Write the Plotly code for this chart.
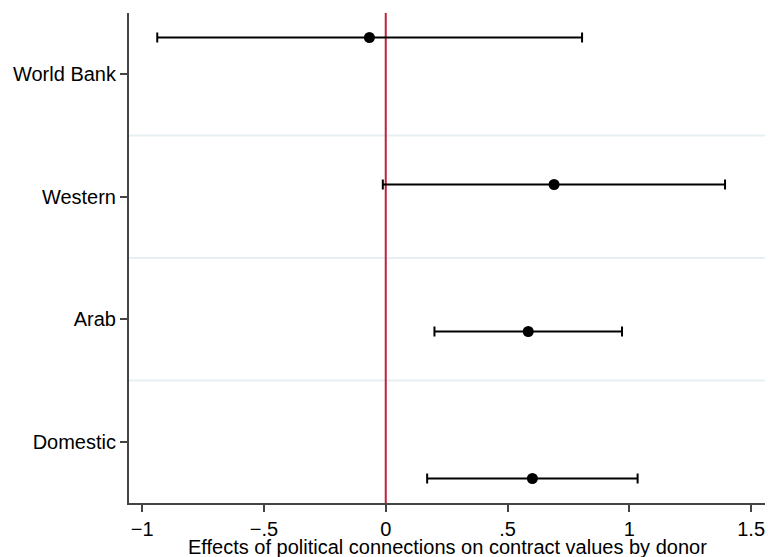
import plotly.graph_objects as go

# Data
donors = ["World Bank", "Western", "Arab", "Domestic"]
estimates = [-0.067, 0.691, 0.585, 0.602]
ci_lower = [-0.938, -0.012, 0.200, 0.170]
ci_upper = [0.806, 1.393, 0.970, 1.034]
label_pos = [4, 3, 2, 1]
offsets = [0.3, 0.1, -0.1, -0.3]

x_tickvals = [-1, -0.5, 0, 0.5, 1, 1.5]
x_ticktext = ["\u22121", "\u2212.5", "0", ".5", "1", "1.5"]
x_title = "Effects of political connections on contract values by donor"

FONT = "Liberation Sans, Arial, Helvetica, sans-serif"

fig = go.Figure()
for name, est, lo, hi, pos, off in zip(donors, estimates, ci_lower, ci_upper, label_pos, offsets):
    fig.add_trace(go.Scatter(
        x=[est], y=[pos + off], mode="markers", name=name,
        marker=dict(color="black", size=11),
        error_x=dict(type="data", symmetric=False, array=[hi - est], arrayminus=[est - lo],
                     color="black", thickness=2, width=5),
        showlegend=False, cliponaxis=False,
    ))

shapes = []
# separating gridlines between categories
for a, b in zip(label_pos[:-1], label_pos[1:]):
    shapes.append(dict(type="line", xref="paper", x0=0, x1=1, yref="y", y0=(a + b) / 2, y1=(a + b) / 2,
                       line=dict(color="#e6eff1", width=2), layer="below"))
# reference line at zero
shapes.append(dict(type="line", xref="x", x0=0, x1=0, yref="paper", y0=0, y1=1,
                   line=dict(color="#c0203a", width=2), layer="below"))

fig.update_layout(
    width=768, height=557,
    margin=dict(l=129, r=3, t=13, b=54, autoexpand=False),
    paper_bgcolor="white", plot_bgcolor="white",
    font=dict(family=FONT, size=20, color="black"),
    shapes=shapes,
    annotations=[dict(text=x_title, xref="paper", yref="paper", x=0.5, y=-0.09,
                      xanchor="center", yanchor="middle", showarrow=False,
                      font=dict(size=20, color="black"))],
    xaxis=dict(
        range=[-1.054, 1.557], tickvals=x_tickvals, ticktext=x_ticktext,
        showgrid=False, zeroline=False, showline=True, linecolor="#444", linewidth=2,
        ticks="outside", ticklen=7, tickwidth=1.5, tickcolor="#444",
        tickfont=dict(size=20), automargin=False,
    ),
    yaxis=dict(
        range=[0.5, 4.5], tickvals=label_pos, ticktext=donors,
        showgrid=False, zeroline=False, showline=True, linecolor="#444", linewidth=2,
        ticks="outside", ticklen=7, tickwidth=1.5, tickcolor="#444",
        tickfont=dict(size=20), automargin=False,
    ),
)

fig.write_html("out.html", config={"displayModeBar": False},
               post_script="document.body.style.margin='0';document.body.style.overflow='hidden';")
